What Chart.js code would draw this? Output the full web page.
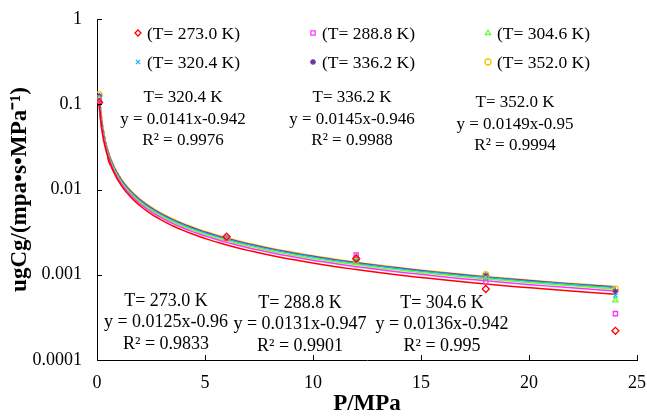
<!DOCTYPE html>
<html>
<head>
<meta charset="utf-8">
<script src="https://cdn.jsdelivr.net/npm/chart.js@4.4.1/dist/chart.umd.min.js"></script>
<style>
  html, body { margin: 0; padding: 0; background: #fff; }
</style>
</head>
<body>
<canvas id="c" width="647" height="416"></canvas>
<script>
// pressure points (MPa) and measured ugCg per temperature
var pressures = [0.1, 6, 12, 18, 24];
var temps = ['273.0', '288.8', '304.6', '320.4', '336.2', '352.0'];
var ug273 = [0.105, 0.0028, 0.00155, 0.00068, 0.00022];
var ug288 = [0.11, 0.0027, 0.0017, 0.00082, 0.00035];
var ug304 = [0.115, 0.0027, 0.0016, 0.00088, 0.0005];
var ug320 = [0.12, 0.0027, 0.0015, 0.00093, 0.00057];
var ug336 = [0.125, 0.0027, 0.0015, 0.00098, 0.00064];
var ug352 = [0.13, 0.0027, 0.0015, 0.001, 0.00068];

// power trendlines y = a * x^b
var coefA = [0.0125, 0.0131, 0.0136, 0.0141, 0.0145, 0.0149];
var coefB = [-0.96, -0.947, -0.942, -0.942, -0.946, -0.95];
var rSquared = ['0.9833', '0.9901', '0.995', '0.9976', '0.9988', '0.9994'];

var yTicks = [0.0001, 0.001, 0.01, 0.1, 1];

var series = [ug273, ug288, ug304, ug320, ug336, ug352];
var colors = ['#ff0000', '#ff33ff', '#66ff33', '#1fb0f0', '#7030a0', '#ffc000'];
var markers = ['rectRot', 'rect', 'triangle', 'crossRot', 'star', 'circle'];
var serif = "'Liberation Serif', 'Times New Roman', serif";

function trend(a, b) {
  var pts = [], x0 = pressures[0], x1 = pressures[pressures.length - 1];
  for (var i = 0; i <= 160; i++) {
    var x = x0 * Math.pow(x1 / x0, i / 160);
    pts.push({ x: x, y: a * Math.pow(x, b) });
  }
  return pts;
}

var datasets = [];
series.forEach(function (vals, i) {
  datasets.push({
    type: 'scatter',
    label: '(T= ' + temps[i] + ' K)',
    data: pressures.map(function (p, j) { return { x: p, y: vals[j] }; }),
    pointStyle: markers[i],
    pointRadius: markers[i] === 'rectRot' ? 3.5 : 3,
    pointBorderWidth: 1.3,
    borderColor: colors[i],
    backgroundColor: 'rgba(0,0,0,0)',
    order: 0
  });
});
series.forEach(function (vals, i) {
  datasets.push({
    type: 'line',
    label: 'fit ' + temps[i],
    data: trend(coefA[i], coefB[i]),
    borderColor: colors[i],
    borderWidth: 1.5,
    pointRadius: 0,
    fill: false,
    order: 1
  });
});

// short tick marks pointing into the plot
var innerTicks = {
  id: 'innerTicks',
  afterDatasetsDraw: function (chart) {
    var ctx = chart.ctx, xs = chart.scales.x, ys = chart.scales.y, area = chart.chartArea;
    ctx.save();
    ctx.strokeStyle = '#000';
    ctx.lineWidth = 1;
    ctx.beginPath();
    xs.ticks.forEach(function (t) {
      var px = Math.round(xs.getPixelForValue(t.value)) + 0.5;
      ctx.moveTo(px, area.bottom);
      ctx.lineTo(px, area.bottom - 5);
    });
    ys.ticks.forEach(function (t) {
      var py = Math.round(ys.getPixelForValue(t.value)) + 0.5;
      ctx.moveTo(area.left, py);
      ctx.lineTo(area.left + 5, py);
    });
    ctx.stroke();
    ctx.restore();
  }
};

// legend in two rows of three inside the plot
var legendSpots = [[138, 33], [313, 33], [488, 33], [138, 62], [313, 62], [488, 62]];
var legendBox = {
  id: 'legendBox',
  afterDraw: function (chart) {
    var ctx = chart.ctx;
    ctx.save();
    ctx.font = '17.5px ' + serif;
    ctx.textBaseline = 'middle';
    ctx.textAlign = 'left';
    temps.forEach(function (t, i) {
      var ds = chart.data.datasets[i];
      var p = legendSpots[i];
      ctx.strokeStyle = colors[i];
      ctx.fillStyle = 'rgba(0,0,0,0)';
      ctx.lineWidth = 1.3;
      Chart.helpers.drawPoint(ctx, { pointStyle: markers[i], radius: 3, rotation: 0, borderWidth: 1.3 }, p[0], p[1]);
      ctx.fillStyle = '#000';
      ctx.fillText(ds.label, p[0] + 9, p[1] + 1);
    });
    ctx.restore();
  }
};

// trendline equation blocks
var eqSpots = [[166, 301], [300, 303], [442, 303], [183, 98], [352, 98], [515, 103]];
var eqSizes = [18, 18, 18, 17, 17, 17];
var eqLabels = {
  id: 'eqLabels',
  afterDraw: function (chart) {
    var ctx = chart.ctx;
    ctx.save();
    ctx.textBaseline = 'middle';
    ctx.textAlign = 'center';
    ctx.fillStyle = '#000';
    temps.forEach(function (t, i) {
      var p = eqSpots[i];
      ctx.font = eqSizes[i] + 'px ' + serif;
      ctx.fillText('T= ' + t + ' K', p[0], p[1]);
      ctx.fillText('y = ' + coefA[i] + 'x' + coefB[i], p[0], p[1] + 21.5);
      ctx.fillText('R\u00b2 = ' + rSquared[i], p[0], p[1] + 43);
    });
    ctx.restore();
  }
};

new Chart(document.getElementById('c'), {
  type: 'scatter',
  data: { datasets: datasets },
  options: {
    responsive: false,
    animation: false,
    devicePixelRatio: 1,
    layout: { padding: { top: 19, right: 10, left: 0, bottom: 0 } },
    plugins: {
      legend: { display: false },
      tooltip: { enabled: false }
    },
    scales: {
      x: {
        type: 'linear',
        position: 'bottom',
        min: 0,
        max: 25,
        afterFit: function (s) { s.height = 56; s.paddingLeft = 0; s.paddingRight = 0; },
        grid: { display: false, drawTicks: false },
        border: { display: true, color: '#000', width: 1 },
        ticks: { stepSize: 5, color: '#000', padding: 12, font: { family: serif, size: 18 } },
        title: {
          display: true,
          text: 'P/MPa',
          color: '#000',
          padding: { top: 0, bottom: 0 },
          font: { family: serif, size: 23, weight: 'bold', lineHeight: 1 }
        }
      },
      y: {
        type: 'logarithmic',
        min: 0.0001,
        max: 1,
        afterFit: function (s) { s.width = 97; s.paddingTop = 0; s.paddingBottom = 0; },
        afterBuildTicks: function (s) {
          s.ticks = yTicks.map(function (v) { return { value: v, major: true }; });
        },
        grid: { display: false, drawTicks: false },
        border: { display: true, color: '#000', width: 1 },
        ticks: {
          color: '#000',
          padding: 15,
          font: { family: serif, size: 18 },
          callback: function (v) { return String(v); }
        },
        title: {
          display: true,
          text: 'ugCg/(mpa\u2022s\u2022MPa\u207b\u00b9)',
          color: '#000',
          padding: { top: 9, bottom: 0 },
          font: { family: serif, size: 23, weight: 'bold', lineHeight: 1 }
        }
      }
    }
  },
  plugins: [innerTicks, legendBox, eqLabels]
});
</script>
</body>
</html>
